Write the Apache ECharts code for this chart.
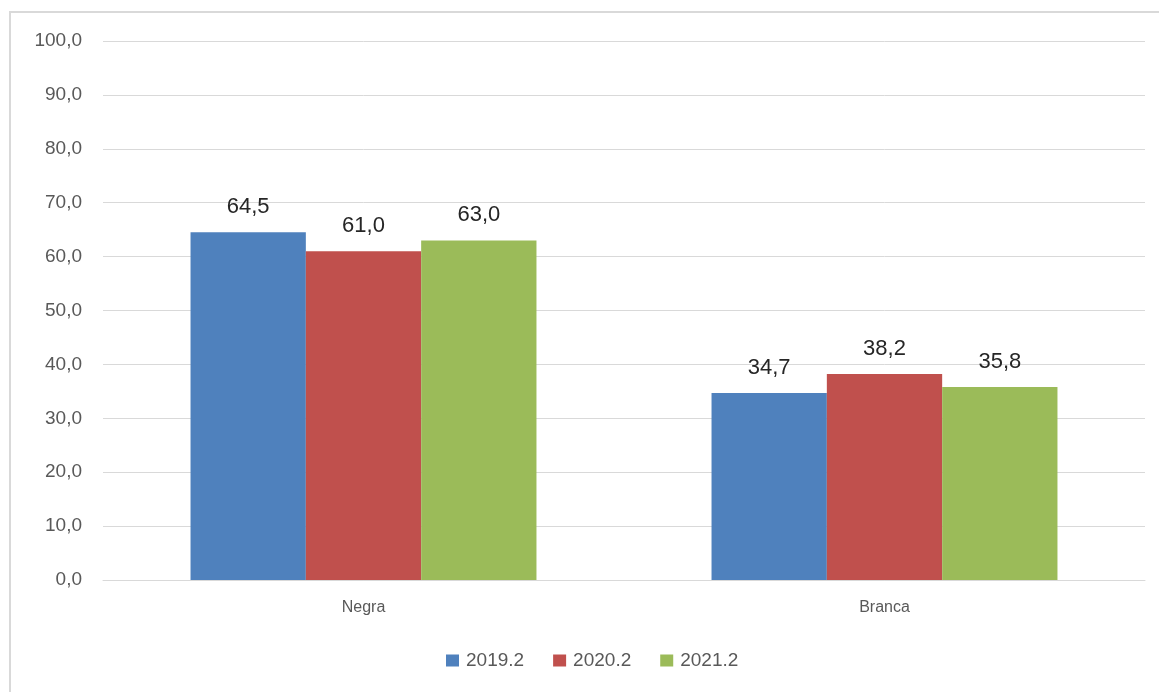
<!DOCTYPE html>
<html>
<head>
<meta charset="utf-8">
<script src="https://cdn.jsdelivr.net/npm/echarts@6/dist/echarts.min.js"></script>
<style>
  html, body { margin: 0; padding: 0; background: #ffffff; }
  #chart { width: 1159px; height: 692px; }
</style>
</head>
<body>
<div id="chart"></div>
<script>
// Categories and series values
const categories = ['Negra', 'Branca'];
const seriesNames = ['2019.2', '2020.2', '2021.2'];
const values2019 = [64.5, 34.7];
const values2020 = [61.0, 38.2];
const values2021 = [63.0, 35.8];
const colors = ['#4f81bd', '#c0504d', '#9bbb59'];

const fmt = v => v.toFixed(1).replace('.', ',');
const font = '"Liberation Sans", "DejaVu Sans", sans-serif';

const chart = echarts.init(document.getElementById('chart'));
const seriesData = [values2019, values2020, values2021];

chart.setOption({
  animation: false,
  backgroundColor: '#ffffff',
  graphic: [{
    type: 'rect',
    shape: { x: 10, y: 12, width: 1300, height: 800 },
    style: { fill: 'none', stroke: '#d9d9d9', lineWidth: 2 },
    silent: true
  }],
  grid: { left: 103, right: 14, top: 41, bottom: 112 },
  legend: {
    bottom: 17,
    left: 441,
    itemWidth: 13,
    itemHeight: 12,
    itemGap: 29,
    icon: 'rect',
    textStyle: { fontFamily: font, fontSize: 19, color: '#595959', padding: [0, 0, 0, 2] },
    data: seriesNames
  },
  xAxis: {
    type: 'category',
    data: categories,
    axisLine: { lineStyle: { color: '#d9d9d9', width: 1 } },
    axisTick: { show: false },
    axisLabel: { fontFamily: font, fontSize: 16, color: '#595959', margin: 20 }
  },
  yAxis: {
    type: 'value',
    min: 0,
    max: 100,
    interval: 10,
    axisLine: { show: false },
    axisTick: { show: false },
    splitLine: { lineStyle: { color: '#d9d9d9', width: 1 } },
    axisLabel: {
      fontFamily: font, fontSize: 19, color: '#595959', margin: 21,
      formatter: v => fmt(v)
    }
  },
  series: seriesNames.map((name, i) => ({
    name: name,
    type: 'bar',
    data: seriesData[i],
    barGap: '0%',
    barCategoryGap: '33.6%',
    itemStyle: { color: colors[i] },
    label: {
      show: true,
      position: 'top',
      distance: 14,
      fontFamily: font,
      fontSize: 22,
      color: '#262626',
      formatter: p => fmt(p.value)
    }
  }))
});
</script>
</body>
</html>
